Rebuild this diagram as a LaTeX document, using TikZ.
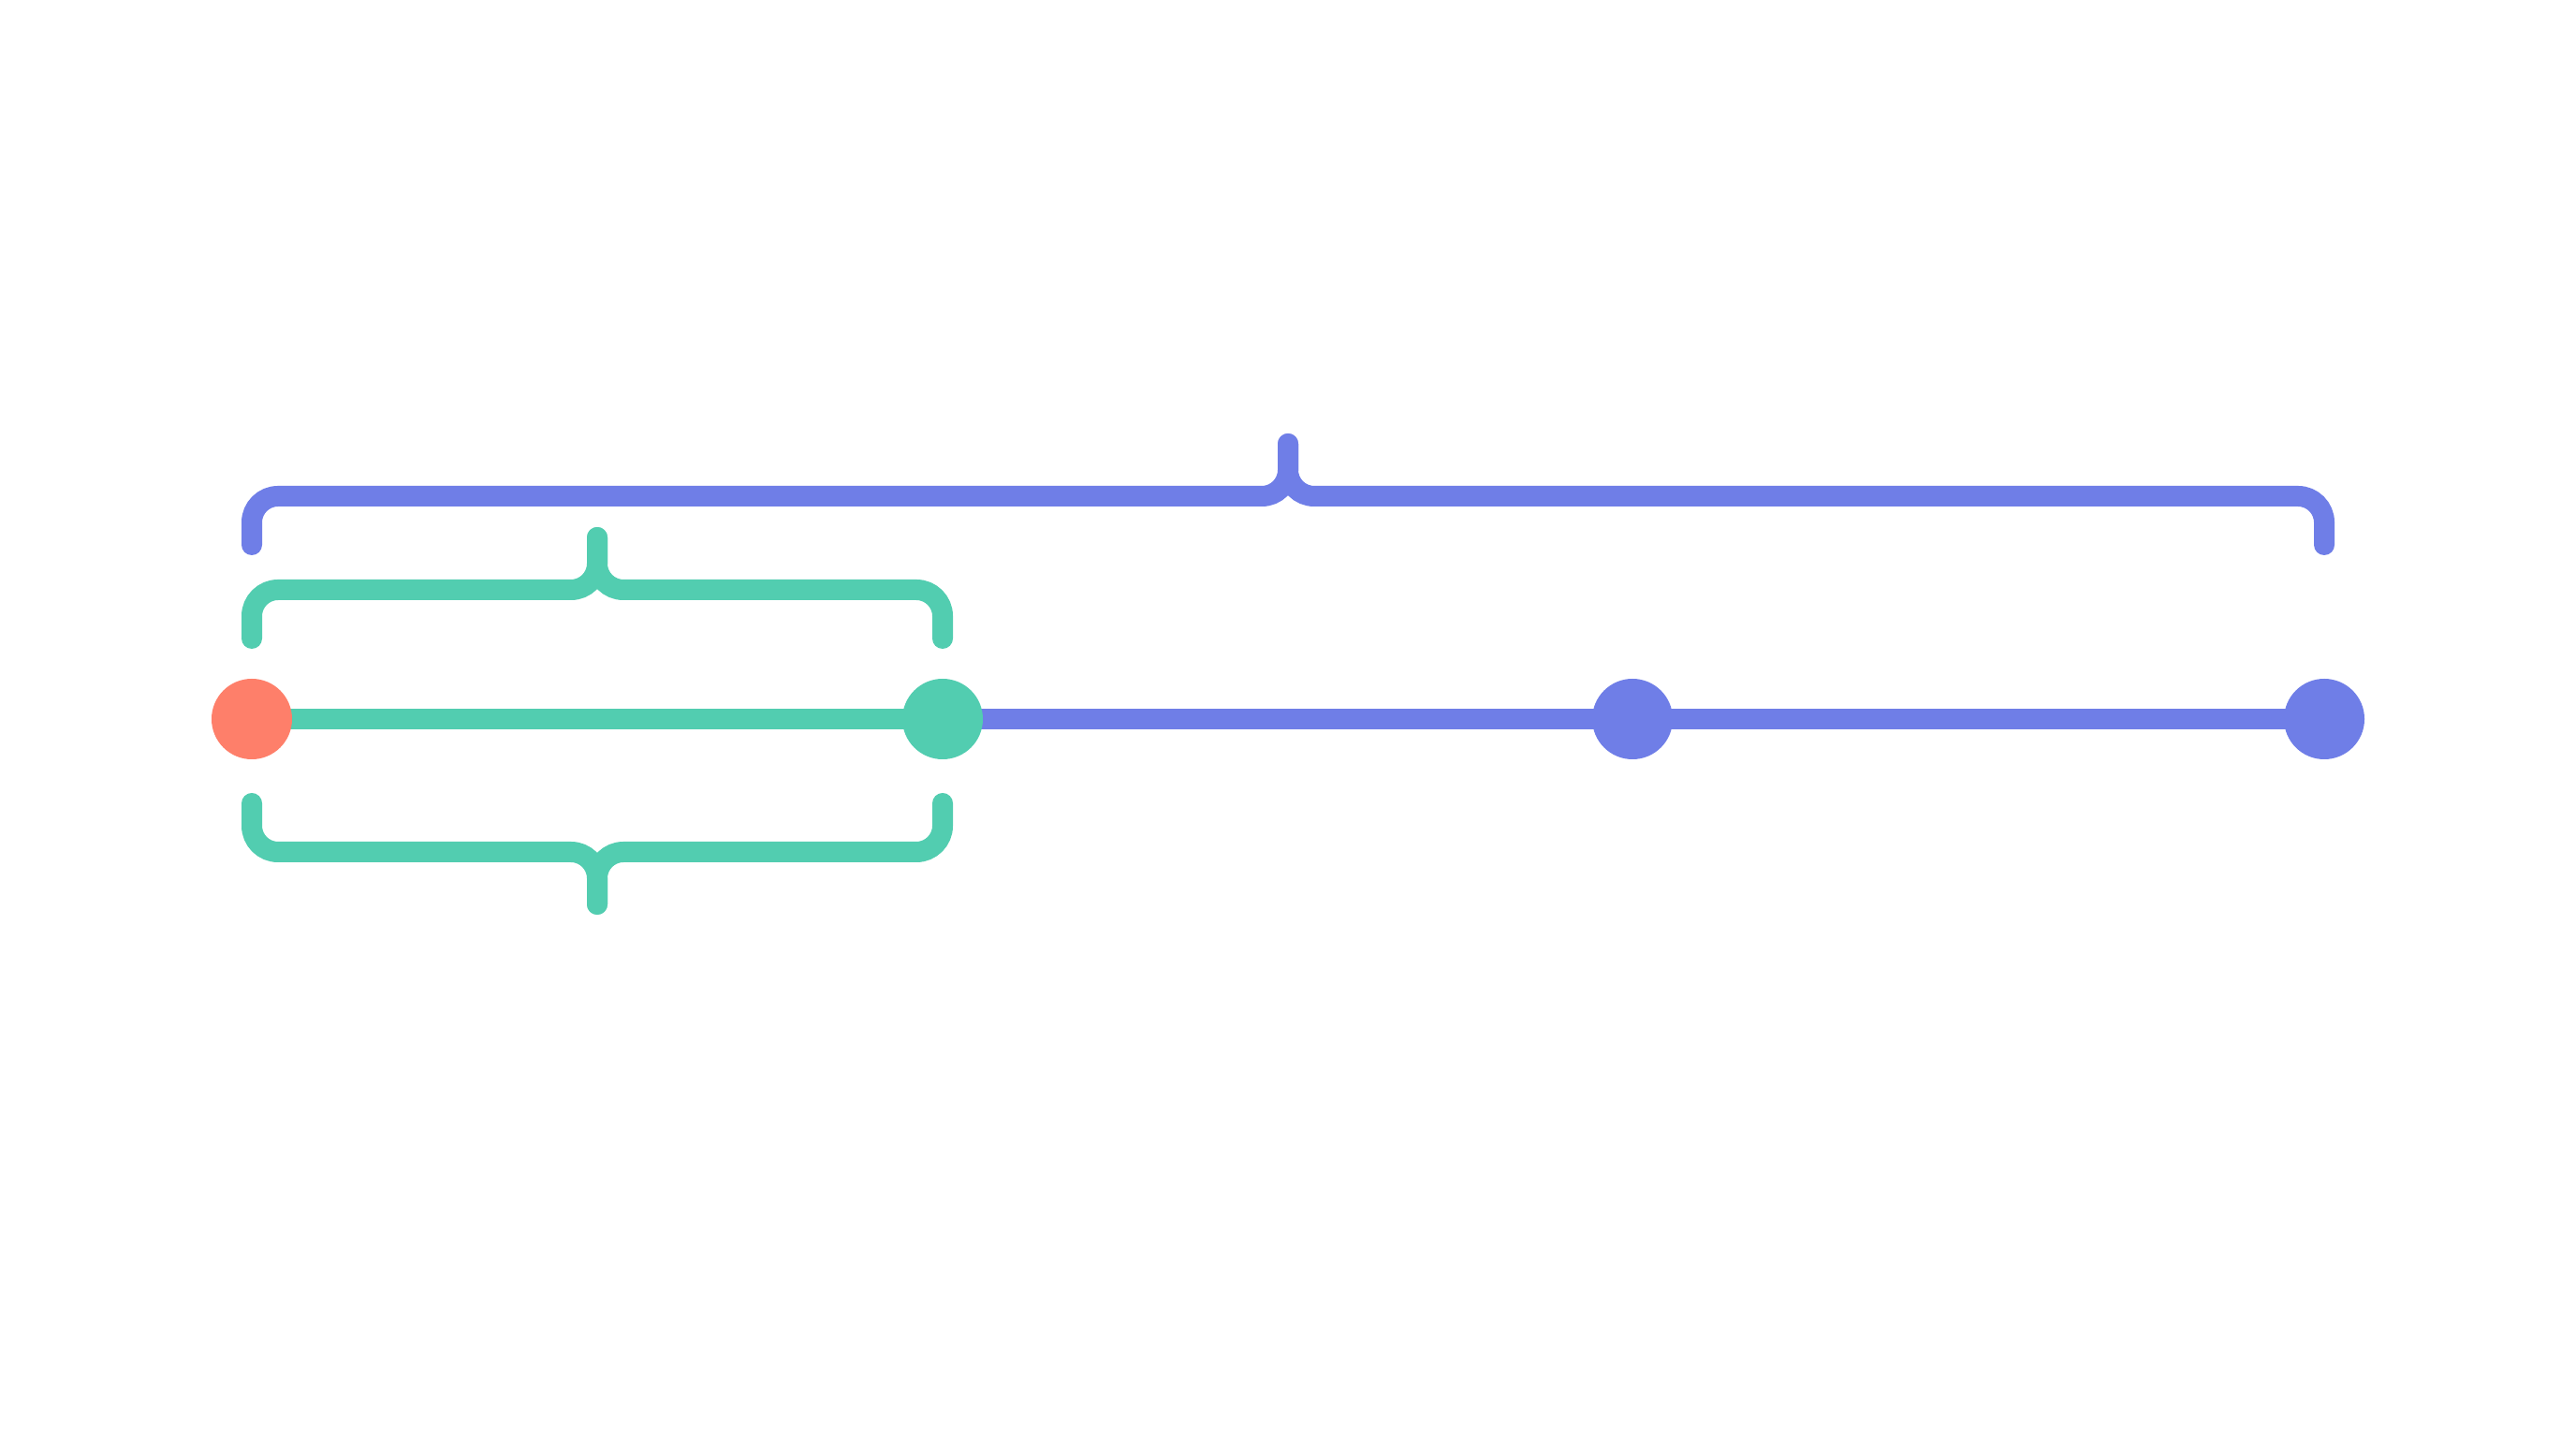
\documentclass[tikz,border=0pt]{standalone}
\usepackage{tikz}
\usepackage{xcolor}
\usetikzlibrary{backgrounds}

\definecolor{spanblue}{RGB}{111,126,231}
\definecolor{spanteal}{RGB}{82,205,176}
\definecolor{startred}{RGB}{254,127,106}

\tikzset{
  dot/.style={circle,inner sep=0pt,minimum size=0.86cm},
  track/.style={line width=0.22cm},
  brace/.style={line width=0.22cm,line cap=round,rounded corners=0.28cm}
}

% colour, x from, x to, y, direction of the tip (1 = up, -1 = down)
\newcommand{\spanbrace}[5]{%
  \draw[brace,#1] ({#2},{#4-(#5)*0.52}) -- ({#2},{#4}) -- ({(#2+#3)/2},{#4}) -- ({(#2+#3)/2},{#4+(#5)*0.56});
  \draw[brace,#1] ({#3},{#4-(#5)*0.52}) -- ({#3},{#4}) -- ({(#2+#3)/2},{#4}) -- ({(#2+#3)/2},{#4+(#5)*0.56});
}

\begin{document}
\begin{tikzpicture}
\useasboundingbox (0,0) rectangle (27.52,15.36);

\node[dot,fill=startred] (p0) at (2.69,7.68) {};
\node[dot,fill=spanteal] (p1) at (10.07,7.68) {};
\node[dot,fill=spanblue] (p2) at (17.44,7.68) {};
\node[dot,fill=spanblue] (p3) at (24.83,7.68) {};

\begin{scope}[on background layer]
\fill[white] (0,0) rectangle (27.52,15.36);
\draw[track,spanteal] (p0.center) -- (p1.center);
\draw[track,spanblue] (p1.center) -- (p2.center);
\draw[track,spanblue] (p2.center) -- (p3.center);
\end{scope}

\spanbrace{spanblue}{2.69}{24.83}{10.06}{1}
\spanbrace{spanteal}{2.69}{10.07}{9.06}{1}
\spanbrace{spanteal}{2.69}{10.07}{6.26}{-1}
\end{tikzpicture}
\end{document}
